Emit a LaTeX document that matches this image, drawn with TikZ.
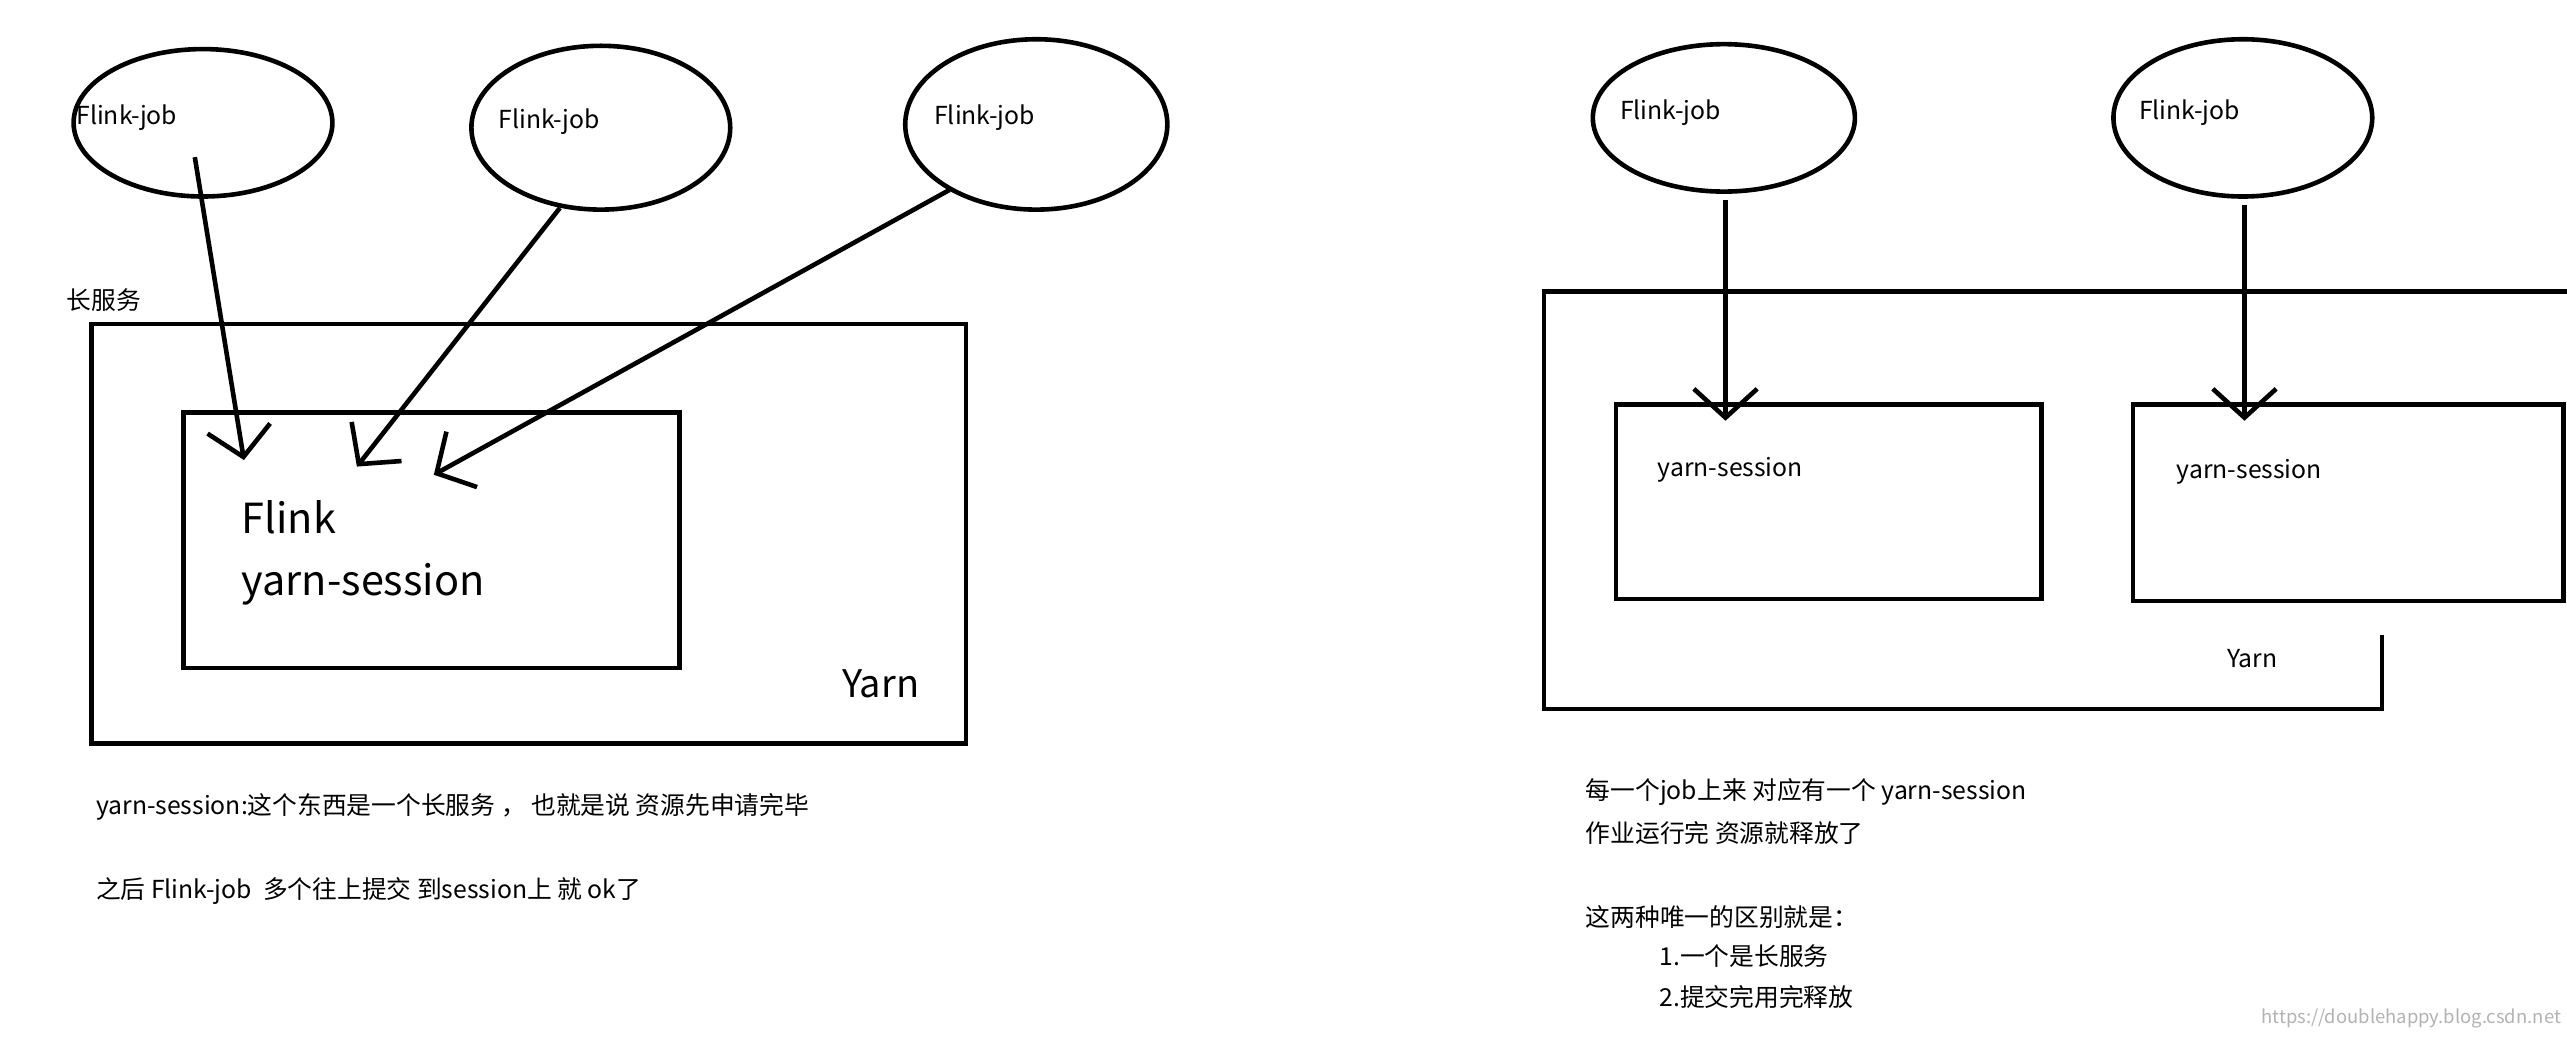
\documentclass[tikz,border=0pt]{standalone}
\usepackage{fontspec}
\setmainfont{Noto Sans CJK SC}
\usetikzlibrary{arrows.meta,shapes.geometric}
\begin{document}
\begin{tikzpicture}[x=0.01cm,y=-0.01cm,
  ln/.style={line width=0.8pt,black},
  job/.style={ln,draw,ellipse,inner sep=0pt},
  arr/.style={ln,-{Straight Barb[length=5pt,width=11pt,line width=0.8pt]}},
  t/.style={font=\fontsize{4.3pt}{5pt}\selectfont,anchor=west,inner sep=0pt},
  big/.style={font=\fontsize{7.2pt}{8pt}\selectfont,anchor=west,inner sep=0pt}]
\useasboundingbox (0,0) rectangle (1568,636);
% left
\node[job,minimum width=1.58cm,minimum height=0.9cm] (e1) at (124,75) {};
\node[job,minimum width=1.58cm,minimum height=1.0cm] (e2) at (367,78) {};
\node[job,minimum width=1.60cm,minimum height=1.04cm] (e3) at (633,76) {};
\node[t] (l1) at (46,72) {Flink-job};
\node[t] (l2) at (304,74) {Flink-job};
\node[t] (l3) at (570,72) {Flink-job};
\node[t] (cs) at (40,183) {长服务};
\draw[ln] (56,198) rectangle (590,454);
\draw[ln] (112,252) rectangle (415,408);
\node[big] (fl) at (147,316) {Flink};
\node[big] (ys) at (147,357) {yarn-session};
\node[big,font=\fontsize{6.6pt}{8pt}\selectfont] (yl) at (514,418) {Yarn};
\coordinate (a1) at (149,281); \coordinate (a2) at (218,285); \coordinate (a3) at (265,290);
\coordinate (s1) at (119,96); \coordinate (s2) at (342,127); \coordinate (s3) at (580,116);
\draw[arr] (s1) -- (a1);
\draw[arr] (s2) -- (a2);
\draw[arr] (s3) -- (a3);
\node[t] (tx1) at (58,493) {yarn-session:这个东西是一个长服务 ， 也就是说 资源先申请完毕};
\node[t] (tx2) at (58,544) {之后 Flink-job \ 多个往上提交 到session上 就 ok了};
% right
\node[job,minimum width=1.60cm,minimum height=0.9cm] (e4) at (1053,72) {};
\node[job,minimum width=1.58cm,minimum height=0.96cm] (e5) at (1370,72) {};
\node[t] (l4) at (989,69) {Flink-job};
\node[t] (l5) at (1306,69) {Flink-job};
\draw[ln] (1455,388) -- (1455,433) -- (943,433) -- (943,178) -- (1568,178);
\draw[ln] (987,247) rectangle (1247,366);
\draw[ln] (1303,247) rectangle (1566,367);
\node[t] (y1) at (1012,287) {yarn-session};
\node[t] (y2) at (1329,288) {yarn-session};
\node[t] (yr) at (1360,402) {Yarn};
\coordinate (b1) at (1054,257); \coordinate (b2) at (1371,257);
\coordinate (r1) at (1054,122); \coordinate (r2) at (1371,125);
\draw[arr] (r1) -- (b1);
\draw[arr] (r2) -- (b2);
\node[t] (r1t) at (968,484) {每一个job上来 对应有一个 yarn-session};
\node[t] (r2t) at (968,509) {作业运行完 资源就释放了};
\node[t] (r3t) at (968,560) {这两种唯一的区别就是：};
\node[t] (r4t) at (1013,584) {1.一个是长服务};
\node[t] (r5t) at (1013,609) {2.提交完用完释放};
\node[t,anchor=east,text=gray!60,font=\fontsize{3.2pt}{4pt}\selectfont] (wm) at (1565,622) {https://doublehappy.blog.csdn.net};
\end{tikzpicture}
\end{document}
